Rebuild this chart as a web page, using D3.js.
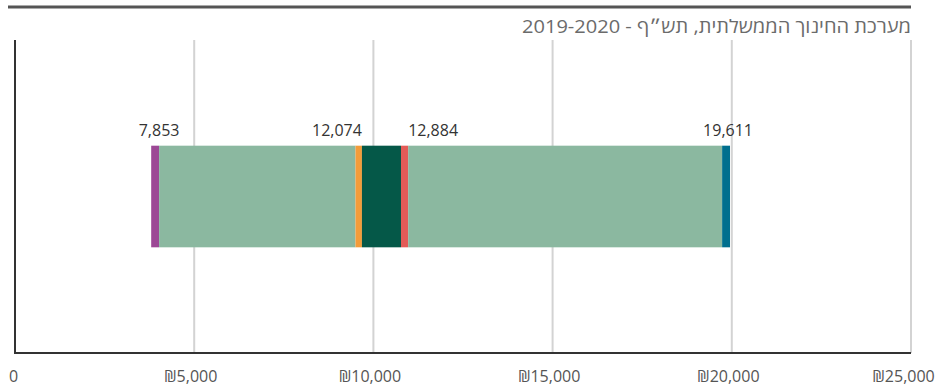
<!DOCTYPE html>
<html lang="he">
<head>
<meta charset="utf-8">
<script src="https://cdn.jsdelivr.net/npm/d3@7"></script>
<style>
  html, body { margin: 0; padding: 0; background: #fff; }
  svg { display: block; font-family: "Open Sans", "Noto Sans", sans-serif; }
</style>
</head>
<body>
<svg id="chart" width="938" height="386"></svg>
<script>
// Segment boundaries (₪ per student) along the single range bar
const segStarts = [3800, 4020, 9500, 9680, 10770, 10970, 19730];
const segEnds   = [4020, 9500, 9680, 10770, 10970, 19730, 19950];
const segColors = ["#9c4895", "#8bb8a0", "#f39c3a", "#055848", "#e35b57", "#8bb8a0", "#006f8e"];

// Marker labels, tied to the segment they annotate
const markerValues  = [7853, 12074, 12884, 19611];
const markerSegment = [0, 2, 5, 6];
const markerAlign   = ["endMid", "end", "start", "mid"];

const tickValues = [0, 5000, 10000, 15000, 20000, 25000];
const titleText = "מערכת החינוך הממשלתית, תש״ף - 2019-2020";

const svg = d3.select("#chart");
const m = { left: 15, right: 911, top: 40, bottom: 353 };

const x = d3.scaleLinear().domain([0, 25000]).range([m.left, m.right]);
const y = d3.scaleBand().domain(["row"]).range([m.top, m.bottom]).paddingOuter(1.04);
const barY = y("row");
const barH = y.bandwidth();

// top rule
svg.append("line")
  .attr("x1", 8).attr("x2", m.right).attr("y1", 7).attr("y2", 7)
  .attr("stroke", "#555").attr("stroke-width", 3);

// title, stretched to span the right-hand header area
svg.append("text")
  .attr("x", m.right).attr("y", 33)
  .attr("text-anchor", "start")
  .attr("direction", "rtl")
  .attr("fill", "#6b6b6b")
  .attr("font-size", 18)
  .attr("textLength", 389)
  .attr("lengthAdjust", "spacingAndGlyphs")
  .text(titleText);

// grid lines
svg.append("g").selectAll("line")
  .data(tickValues.slice(1))
  .join("line")
  .attr("x1", d => x(d)).attr("x2", d => x(d))
  .attr("y1", m.top).attr("y2", m.bottom)
  .attr("stroke", "#d3d3d3").attr("stroke-width", 2);

// bar segments
const segs = segStarts.map((s, i) => ({ s, e: segEnds[i], c: segColors[i] }));
svg.append("g").selectAll("rect")
  .data(segs)
  .join("rect")
  .attr("x", d => x(d.s))
  .attr("width", d => x(d.e) - x(d.s))
  .attr("y", barY)
  .attr("height", barH)
  .attr("fill", d => d.c);

// marker labels
const fmt = d3.format(",");
const labelX = d => {
  if (d.align === "mid") return (x(d.seg.s) + x(d.seg.e)) / 2 + 2;
  if (d.align === "start") return x(d.seg.s);
  return x(d.seg.e);
};
const labelAnchor = d => d.align === "end" ? "end" : d.align === "start" ? "start" : "middle";
svg.append("g").selectAll("text")
  .data(markerValues.map((v, i) => ({ v, seg: segs[markerSegment[i]], align: markerAlign[i] })))
  .join("text")
  .attr("x", labelX)
  .attr("y", barY - 10)
  .attr("text-anchor", labelAnchor)
  .attr("fill", "#333")
  .attr("font-size", 16)
  .text(d => fmt(d.v));

// axis lines
svg.append("line")
  .attr("x1", m.left).attr("x2", m.left).attr("y1", m.top).attr("y2", m.bottom)
  .attr("stroke", "#333").attr("stroke-width", 2);
svg.append("line")
  .attr("x1", m.left - 1).attr("x2", m.right).attr("y1", m.bottom).attr("y2", m.bottom)
  .attr("stroke", "#333").attr("stroke-width", 2);

// x axis tick labels
const axis = d3.axisBottom(x)
  .tickValues(tickValues)
  .tickSize(0)
  .tickPadding(0)
  .tickFormat(d => d === 0 ? "0" : "₪" + fmt(d));
const ax = svg.append("g").attr("transform", `translate(0,${m.bottom})`).call(axis);
ax.select(".domain").remove();
ax.selectAll("text")
  .attr("y", 29)
  .attr("dy", 0)
  .attr("fill", "#555")
  .attr("font-size", 16)
  .attr("font-family", "'Open Sans', 'Noto Sans', sans-serif")
  .attr("dx", d => d === 0 ? -2 : d === 25000 ? -8 : -4);
</script>
</body>
</html>
